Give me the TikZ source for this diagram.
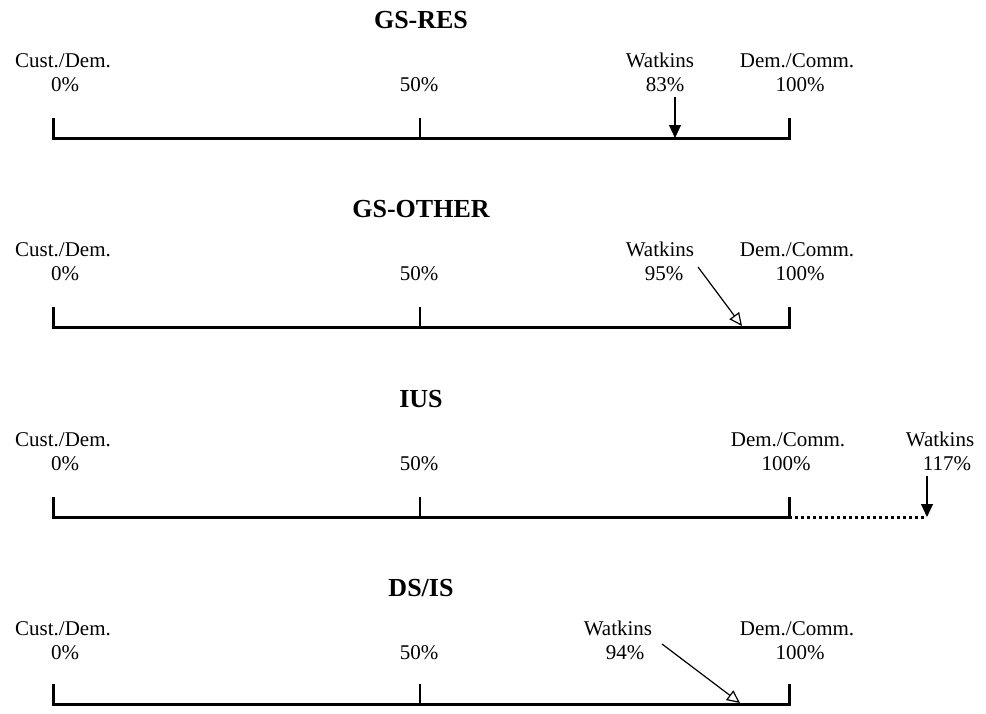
\documentclass[tikz,border=0pt]{standalone}
\usepackage{fontspec}
\setmainfont{Liberation Serif}
\usetikzlibrary{arrows.meta}
\begin{document}
\begin{tikzpicture}[x=0.5pt,y=-0.5pt,
  lbl/.style={anchor=base,inner sep=0pt,font=\fontsize{10.5}{12}\selectfont},
  ttl/.style={anchor=base,inner sep=0pt,font=\fontsize{13}{15}\selectfont\bfseries},
  axis/.style={line width=1.5pt,line join=miter},
  tickln/.style={line width=1.2pt},
  dotax/.style={line width=1.5pt,dash pattern=on 1.5pt off 1.5pt},
  ptr/.style={line width=0.6pt,-{Triangle[length=6.5pt,width=6pt]}},
  optr/.style={line width=0.6pt,-{Triangle[open,length=6.5pt,width=6pt]}}]
\useasboundingbox (0,0) rectangle (986,713);

% ---------- Row 1: GS-RES ----------
\coordinate (a1L) at (53,118);  \coordinate (a1l) at (53,138);
\coordinate (a1r) at (789,138); \coordinate (a1R) at (789,118);
\coordinate (a1mt) at (420,118); \coordinate (a1m) at (420,138);
\draw[axis] (a1L) -- (a1l) -- (a1r) -- (a1R);
\draw[tickln] (a1mt) -- (a1m);
\node[ttl] (t1) at (421,28) {GS-RES};
\node[lbl] (c1) at (63,67) {Cust./Dem.};
\node[lbl] (z1) at (65,91) {0\%};
\node[lbl] (h1) at (419,91) {50\%};
\node[lbl] (d1) at (797,67) {Dem./Comm.};
\node[lbl] (f1) at (800,91) {100\%};
\node[lbl] (w1) at (660,67) {Watkins};
\node[lbl] (p1) at (665,91) {83\%};
\coordinate (w1s) at (675,97); \coordinate (w1e) at (675,138);
\draw[ptr] (w1s) -- (w1e);

% ---------- Row 2: GS-OTHER ----------
\coordinate (a2L) at (53,307);  \coordinate (a2l) at (53,327);
\coordinate (a2r) at (789,327); \coordinate (a2R) at (789,307);
\coordinate (a2mt) at (420,307); \coordinate (a2m) at (420,327);
\draw[axis] (a2L) -- (a2l) -- (a2r) -- (a2R);
\draw[tickln] (a2mt) -- (a2m);
\node[ttl] (t2) at (421,217) {GS-OTHER};
\node[lbl] (c2) at (63,256) {Cust./Dem.};
\node[lbl] (z2) at (65,280) {0\%};
\node[lbl] (h2) at (419,280) {50\%};
\node[lbl] (d2) at (797,256) {Dem./Comm.};
\node[lbl] (f2) at (800,280) {100\%};
\node[lbl] (w2) at (660,256) {Watkins};
\node[lbl] (p2) at (664,280) {95\%};
\coordinate (w2s) at (698,267); \coordinate (w2e) at (742,326);
\draw[optr] (w2s) -- (w2e);

% ---------- Row 3: IUS ----------
\coordinate (a3L) at (53,497);  \coordinate (a3l) at (53,517);
\coordinate (a3r) at (789,517); \coordinate (a3R) at (789,497);
\coordinate (a3mt) at (420,497); \coordinate (a3m) at (420,517);
\coordinate (a3x) at (927,517);
\draw[axis] (a3L) -- (a3l) -- (a3r) -- (a3R);
\draw[tickln] (a3mt) -- (a3m);
\draw[dotax] (a3r) -- (a3x);
\node[ttl] (t3) at (421,407) {IUS};
\node[lbl] (c3) at (63,446) {Cust./Dem.};
\node[lbl] (z3) at (65,470) {0\%};
\node[lbl] (h3) at (419,470) {50\%};
\node[lbl] (d3) at (788,446) {Dem./Comm.};
\node[lbl] (f3) at (786,470) {100\%};
\node[lbl] (w3) at (940,446) {Watkins};
\node[lbl] (p3) at (947,470) {117\%};
\coordinate (w3s) at (927,476);
\draw[ptr] (w3s) -- (a3x);

% ---------- Row 4: DS/IS ----------
\coordinate (a4L) at (53,684);  \coordinate (a4l) at (53,704);
\coordinate (a4r) at (789,704); \coordinate (a4R) at (789,684);
\coordinate (a4mt) at (420,684); \coordinate (a4m) at (420,704);
\draw[axis] (a4L) -- (a4l) -- (a4r) -- (a4R);
\draw[tickln] (a4mt) -- (a4m);
\node[ttl] (t4) at (421,596) {DS/IS};
\node[lbl] (c4) at (63,635) {Cust./Dem.};
\node[lbl] (z4) at (65,659) {0\%};
\node[lbl] (h4) at (419,659) {50\%};
\node[lbl] (d4) at (797,635) {Dem./Comm.};
\node[lbl] (f4) at (800,659) {100\%};
\node[lbl] (w4) at (618,635) {Watkins};
\node[lbl] (p4) at (625,659) {94\%};
\coordinate (w4s) at (662,644); \coordinate (w4e) at (740,703);
\draw[optr] (w4s) -- (w4e);
\end{tikzpicture}
\end{document}
